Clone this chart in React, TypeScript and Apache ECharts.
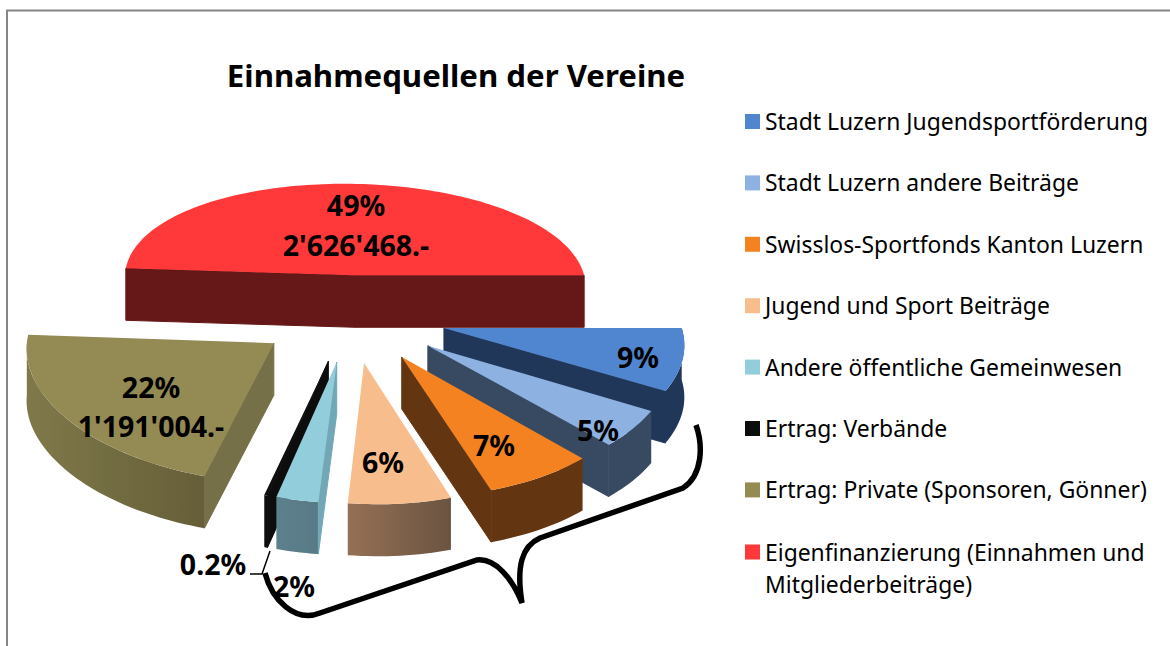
import React, { useEffect, useRef } from "react";
import * as echarts from "echarts";

const sliceNames = [
  "Stadt Luzern Jugendsportförderung",
  "Stadt Luzern andere Beiträge",
  "Swisslos-Sportfonds Kanton Luzern",
  "Jugend und Sport Beiträge",
  "Andere öffentliche Gemeinwesen",
  "Ertrag: Verbände",
  "Ertrag: Private (Sponsoren, Gönner)",
  "Eigenfinanzierung (Einnahmen und Mitgliederbeiträge)",
];
const sliceShares = [8.6, 5.0, 6.9, 6.4, 2.6, 0.2, 21.5, 49];
const sliceLabels = [
  ["9%"],
  ["5%"],
  ["7%"],
  ["6%"],
  ["2%"],
  ["0.2%"],
  ["22%", "1'191'004.-"],
  ["49%", "2'626'468.-"],
];

const topColors = ["#4f86cf", "#8db1e1", "#f58220", "#f8bd8d", "#92cddc", "#0d0d0d", "#948a54", "#ff3939"];
const faceColors = ["#20375a", "#374a62", "#633510", "#6a5440", "#72a7b5", "#0d0d0d", "#757047", "#661717"];
const wallColors = [
  ["#20375a", "#20375a"],
  ["#374a62", "#374a62"],
  ["#633510", "#633510"],
  ["#957055", "#6a5440"],
  ["#5c808c", "#587a86"],
  ["#0d0d0d", "#0d0d0d"],
  ["#7f794a", "#655e38"],
  ["#661717", "#661717"],
];
const labelCenters = [
  [[638, 357]],
  [[598, 430]],
  [[494, 445]],
  [[383, 462]],
  [[294, 586]],
  [[213, 564]],
  [[151, 387], [151, 426]],
  [[356, 205], [356, 245]],
];
const sliceNudge = [[0, 0], [0, 0], [0, 0], [0, 0], [0, 0], [0, 0], [-1, 1], [5, 2]];
const sliceRadius = [1, 1, 1, 1, 1, 1, 1.03, 1];
const paintOrder = [7, 0, 1, 2, 3, 6, 5, 4];

// projection of the tilted pie plane
const CX = 351, CY = 316, A = 236, B = 112, KX = -0.07, KY = -0.12, SHEAR = 0.05, EXPLODE = 0.4, DEPTH = 52;

const total = sliceShares.reduce((s, v) => s + v, 0);
const project = (X: number, Y: number, drop = 0) => [
  CX + (A * (X + SHEAR * Y)) / (1 + KX * Y),
  CY + (B * Y) / (1 + KY * Y) + drop,
];
const rad = (d: number) => (d * Math.PI) / 180;

const renderSlice = (i: number) => (_params: any, api: any) => {
  const value = api.value(0);
  const before = sliceShares.slice(0, i).reduce((s, v) => s + v, 0);
  const start = (before / total) * 360;
  const end = start + (value / total) * 360;
  const mid = rad((start + end) / 2);
  const ox = EXPLODE * Math.cos(mid);
  const oy = EXPLODE * Math.sin(mid);
  const [nx, ny] = sliceNudge[i];
  const r = sliceRadius[i];
  const at = (X: number, Y: number, drop: number) => {
    const [x, y] = project(X, Y, drop);
    return [x + nx, y + ny];
  };
  const rim = (t: number, drop = 0) => at(ox + r * Math.cos(rad(t)), oy + r * Math.sin(rad(t)), drop);
  const apex = (drop = 0) => at(ox, oy, drop);
  const arc = (a: number, b: number, drop = 0) => {
    const n = Math.max(2, Math.ceil(Math.abs(b - a) / 1.5));
    const pts: number[][] = [];
    for (let k = 0; k <= n; k++) pts.push(rim(a + ((b - a) * k) / n, drop));
    return pts;
  };
  const children: any[] = [];
  const wa = Math.max(start, 0);
  const wb = Math.min(end, 180);
  if (wb > wa) {
    children.push({
      type: "polygon",
      shape: { points: [...arc(wa, wb), ...arc(wa, wb, DEPTH).reverse()] },
      style: {
        fill: new echarts.graphic.LinearGradient(wb > 90 ? 0 : 1, 0, wb > 90 ? 1 : 0, 0, [
          { offset: 0, color: wallColors[i][0] },
          { offset: 1, color: wallColors[i][1] },
        ]),
      },
    });
  }
  const cut = (t: number) => ({
    type: "polygon",
    shape: { points: [apex(), rim(t), rim(t, DEPTH), apex(DEPTH)] },
    style: { fill: faceColors[i], stroke: faceColors[i], lineWidth: 1 },
  });
  if (start > 90 && start < 270) children.push(cut(start));
  if (end < 90 || end > 270) children.push(cut(end));
  children.push({
    type: "polygon",
    shape: { points: [apex(), ...arc(start, end)] },
    style: { fill: topColors[i] },
  });
  sliceLabels[i].forEach((text, j) => {
    const [x, y] = labelCenters[i][j];
    children.push({
      type: "text",
      x,
      y,
      style: {
        text,
        fill: "#000",
        font: 'bold 28.5px "Noto Sans"',
        align: "center",
        verticalAlign: "middle",
      },
    });
  });
  return { type: "group", children };
};

const BRACE =
  "M696 425 C703 445 703 475 683 488 L540 538 C522 546 516 566 522 603 C512 578 495 558 477 560 L320 613 C295 623 272 600 265 573";

export default function App() {
  const ref = useRef<HTMLDivElement>(null);
  useEffect(() => {
    document.body.style.margin = "0";
    echarts.graphic.registerShape("brace", echarts.graphic.extendPath(BRACE, {}));
    echarts.graphic.registerShape("leader", echarts.graphic.extendPath("M270 551 L262 574 L250 574", {}));
    const chart = echarts.init(ref.current!, undefined, { renderer: "svg" });
    const legendBase = {
      orient: "vertical" as const,
      left: 745,
      icon: "rect",
      itemWidth: 15,
      itemHeight: 15,
      itemGap: 29.4,
      padding: 0,
      selectedMode: false,
      textStyle: { fontFamily: "Noto Sans", fontSize: 22.9, color: "#000", lineHeight: 32 },
    };
    chart.setOption({
      animation: false,
      backgroundColor: "#fff",
      title: {
        text: "Einnahmequellen der Vereine",
        left: 456,
        textAlign: "center",
        top: 59,
        padding: 0,
        textStyle: { fontFamily: "Noto Sans", fontWeight: "bold", fontSize: 31.2, color: "#000" },
      },
      legend: [
        { ...legendBase, top: 105.5, data: sliceNames.slice(0, 7) },
        {
          ...legendBase,
          top: 504,
          data: sliceNames.slice(7),
          formatter: () => "\nEigenfinanzierung (Einnahmen und\nMitgliederbeiträge)",
        },
      ],
      graphic: [
        { type: "line", shape: { x1: 7, y1: 10, x2: 7, y2: 646 }, style: { stroke: "#868686", lineWidth: 2 }, silent: true },
        { type: "line", shape: { x1: 6, y1: 10.5, x2: 1170, y2: 10.5 }, style: { stroke: "#868686", lineWidth: 2 }, silent: true },
        { type: "brace", x: 0, y: 0, z: 50, style: { fill: "none", stroke: "#000", lineWidth: 5.5 }, silent: true },
        { type: "leader", x: 0, y: 0, z: 50, style: { fill: "none", stroke: "#000", lineWidth: 1.5 }, silent: true },
      ],
      series: paintOrder.map((i, order) => ({
        type: "custom",
        name: sliceNames[i],
        coordinateSystem: "none",
        silent: true,
        z: 2 + order,
        itemStyle: { color: topColors[i] },
        data: [[sliceShares[i]]],
        encode: { value: 0 },
        renderItem: renderSlice(i),
      })),
    });
    return () => chart.dispose();
  }, []);
  return <div ref={ref} style={{ position: "absolute", left: 0, top: 0, width: 1170, height: 646 }} />;
}
